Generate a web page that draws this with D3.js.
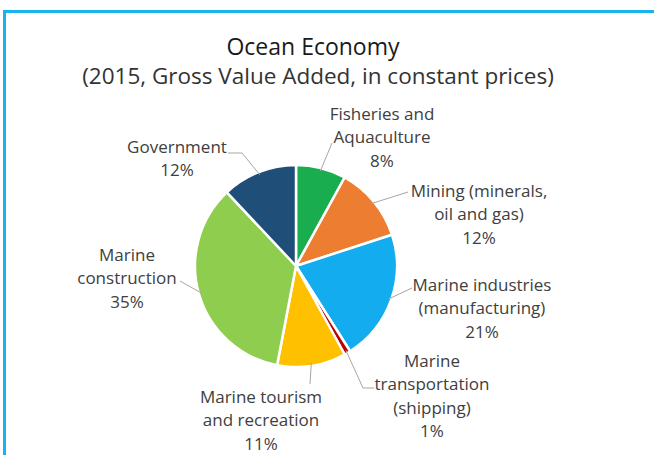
<!DOCTYPE html>
<html lang="en">
<head>
<meta charset="UTF-8">
<title>Ocean Economy</title>
<script src="https://cdn.jsdelivr.net/npm/d3@7"></script>
<style>
    body { margin: 0; background: #fff; }
    text { font-family: "Open Sans", sans-serif; }
</style>
</head>
<body>
<div id="chart"></div>
<script>
// slices clockwise from 12 o'clock
var sectors = ["Fisheries and Aquaculture", "Mining (minerals, oil and gas)", "Marine industries (manufacturing)",
    "Marine transportation (shipping)", "Marine tourism and recreation", "Marine construction", "Government"];
var shares = [8, 12, 21, 1, 11, 35, 12];
var labelLines = [
    ["Fisheries and", "Aquaculture"],
    ["Mining (minerals,", "oil and gas)"],
    ["Marine industries", "(manufacturing)"],
    ["Marine", "transportation", "(shipping)"],
    ["Marine tourism", "and recreation"],
    ["Marine", "construction"],
    ["Government"]
];
var colors = ["#19ad50", "#ed7d31", "#13acef", "#c00000", "#ffc000", "#8fcd4e", "#1f4e79"];

var width = 654, height = 455;
var cx = 296, cy = 266, radius = 101;
var lineH = 23.5;

// label block centre (x, first line y) and where the leader line ends
var labelPos = [
    {x: 382, y: 114, path: [[332, 143]]},
    {x: 479, y: 191, path: [[408, 192]]},
    {x: 482, y: 285, path: [[412, 288]]},
    {x: 432, y: 361, path: [[363, 388], [374, 388]]},
    {x: 261, y: 397, path: [[310, 384]]},
    {x: 127, y: 255, path: [[180, 281]]},
    {x: 177, y: 147, path: [[242, 153], [228, 153]]}
];

var svg = d3.select("#chart").append("svg")
    .attr("width", width)
    .attr("height", height);

// blue frame (cropped at right and bottom)
svg.append("path")
    .attr("d", "M4.5," + height + "V11.5H" + width)
    .attr("fill", "none")
    .attr("stroke", "#15b3f0")
    .attr("stroke-width", 3);

svg.append("text")
    .attr("x", 313).attr("y", 55)
    .attr("text-anchor", "middle")
    .attr("font-size", "23px")
    .attr("fill", "#1a1a1a")
    .text("Ocean Economy");
svg.append("text")
    .attr("x", 318).attr("y", 84)
    .attr("text-anchor", "middle")
    .attr("font-size", "22.5px")
    .attr("fill", "#333")
    .text("(2015, Gross Value Added, in constant prices)");

var pie = d3.pie().value(function(d) { return d; }).sort(null);
var arc = d3.arc().innerRadius(0).outerRadius(radius);
var edge = d3.arc().innerRadius(radius).outerRadius(radius);
var slices = pie(shares);

var g = svg.append("g").attr("transform", "translate(" + cx + "," + cy + ")");
g.selectAll("path.slice")
    .data(slices)
    .enter()
    .append("path")
    .attr("class", "slice")
    .attr("d", arc)
    .attr("fill", function(d, i) { return colors[i]; })
    .attr("stroke", "#fff")
    .attr("stroke-width", 2.5)
    .attr("stroke-linejoin", "round");

// leader lines
var line = d3.line();
svg.selectAll("path.leader")
    .data(slices)
    .enter()
    .append("path")
    .attr("class", "leader")
    .attr("d", function(d, i) {
        var p = edge.centroid(d);
        var pts = [[p[0] * 0.97 + cx, p[1] * 0.97 + cy]].concat(labelPos[i].path);
        return line(pts);
    })
    .attr("fill", "none")
    .attr("stroke", "#a6a6a6")
    .attr("stroke-width", 1);

// labels
var labels = svg.selectAll("text.lbl")
    .data(slices)
    .enter()
    .append("text")
    .attr("class", "lbl")
    .attr("text-anchor", "middle")
    .attr("font-size", "17px")
    .attr("fill", "#404040");
labels.each(function(d, i) {
    var t = d3.select(this);
    var rows = labelLines[i].concat([d.data + "%"]);
    rows.forEach(function(r, k) {
        t.append("tspan")
            .attr("x", labelPos[i].x)
            .attr("y", labelPos[i].y + k * lineH)
            .attr("dy", "0.35em")
            .text(r);
    });
});
</script>
</body>
</html>
